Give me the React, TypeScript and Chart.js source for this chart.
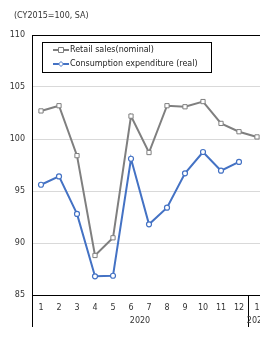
import React, { useEffect, useRef } from 'react';
import { Chart, registerables } from 'chart.js';
Chart.register(...registerables);

const months = ['1', '2', '3', '4', '5', '6', '7', '8', '9', '10', '11', '12', '1'];
const yearGroups = [
  { label: '2020', from: 0, to: 11 },
  { label: '2021', from: 12, to: 12 },
];
const retailSales = [102.7, 103.2, 98.4, 88.8, 90.5, 102.2, 98.7, 103.2, 103.1, 103.6, 101.5, 100.7, 100.2];
const consumption = [95.6, 96.4, 92.8, 86.8, 86.85, 98.1, 91.8, 93.4, 96.7, 98.75, 96.95, 97.8, null];
const seriesNames = ['Retail sales(nominal)', 'Consumption expenditure (real)'];
const unitLabel = '(CY2015=100, SA)';
const yMin = 85;
const yMax = 110;
const yStep = 5;

const GRAY = '#7f7f7f';
const BLUE = '#4472c4';
const FONT = '"DejaVu Sans", sans-serif';

const extrasPlugin = {
  id: 'extras',
  afterDraw(chart: any) {
    const ctx = chart.ctx;
    const area = chart.chartArea;
    ctx.save();
    // unit label
    ctx.fillStyle = '#333';
    ctx.font = `8px ${FONT}`;
    ctx.textAlign = 'left';
    ctx.textBaseline = 'middle';
    ctx.fillText(unitLabel, 14, 16);

    // group separators & year labels
    const step = (area.right - area.left) / months.length;
    ctx.strokeStyle = '#000';
    ctx.lineWidth = 1;
    const bottom = area.bottom;
    const sepBottom = 327;
    yearGroups.forEach((g) => {
      const x0 = area.left + g.from * step;
      const x1 = area.left + (g.to + 1) * step;
      ctx.beginPath();
      ctx.moveTo(Math.round(x0) + 0.5, bottom);
      ctx.lineTo(Math.round(x0) + 0.5, sepBottom);
      ctx.stroke();
      ctx.fillStyle = '#333';
      ctx.textAlign = 'center';
      ctx.fillText(g.label, (x0 + x1) / 2, 321);
    });

    // legend
    const lx = 42.5, ly = 42.5, lw = 169, lh = 30;
    ctx.fillStyle = '#fff';
    ctx.fillRect(lx, ly, lw, lh);
    ctx.strokeStyle = '#000';
    ctx.lineWidth = 1;
    ctx.strokeRect(lx, ly, lw, lh);
    const rows = [
      { name: seriesNames[0], color: GRAY, style: 'rect', y: 50 },
      { name: seriesNames[1], color: BLUE, style: 'diamond', y: 64 },
    ];
    rows.forEach((r) => {
      ctx.strokeStyle = r.color;
      ctx.lineWidth = 2;
      ctx.beginPath();
      ctx.moveTo(53, r.y);
      ctx.lineTo(69, r.y);
      ctx.stroke();
      ctx.fillStyle = '#fff';
      ctx.lineWidth = 1;
      ctx.beginPath();
      if (r.style === 'rect') {
        ctx.rect(58.5, r.y - 2.5, 5, 5);
      } else {
        ctx.moveTo(61, r.y - 2.5);
        ctx.lineTo(63.5, r.y);
        ctx.lineTo(61, r.y + 2.5);
        ctx.lineTo(58.5, r.y);
        ctx.closePath();
      }
      ctx.fill();
      ctx.stroke();
      ctx.fillStyle = '#222';
      ctx.font = `8px ${FONT}`;
      ctx.textAlign = 'left';
      ctx.textBaseline = 'middle';
      ctx.fillText(r.name, 70, r.y);
    });
    ctx.restore();
  },
};

export default function App() {
  const ref = useRef<HTMLCanvasElement | null>(null);
  useEffect(() => {
    if (!ref.current) return;
    const chart = new Chart(ref.current, {
      type: 'line',
      data: {
        labels: months,
        datasets: [
          {
            label: seriesNames[0],
            data: retailSales,
            borderColor: GRAY,
            backgroundColor: '#fff',
            borderWidth: 2,
            pointStyle: 'rect',
            pointRadius: 3,
            pointBorderWidth: 1,
            pointBackgroundColor: '#fff',
            pointBorderColor: GRAY,
            tension: 0,
          },
          {
            label: seriesNames[1],
            data: consumption,
            borderColor: BLUE,
            backgroundColor: '#fff',
            borderWidth: 2,
            pointStyle: 'circle',
            pointRadius: 2.5,
            pointBorderWidth: 1.2,
            pointBackgroundColor: '#fff',
            pointBorderColor: BLUE,
            tension: 0,
            spanGaps: false,
          },
        ],
      },
      options: {
        responsive: false,
        animation: false,
        devicePixelRatio: 1,
        layout: { padding: { left: 0, top: 35, right: 14, bottom: 0 } },
        plugins: { legend: { display: false }, tooltip: { enabled: false }, title: { display: false } },
        scales: {
          x: {
            offset: true,
            grid: { display: false, drawTicks: false },
            border: { color: '#000', width: 1 },
            ticks: {
              color: '#333',
              font: { family: FONT, size: 8 },
              padding: 8,
              maxRotation: 0,
              autoSkip: false,
            },
            afterFit: (s: any) => { s.height = 43; },
          },
          y: {
            min: yMin,
            max: yMax,
            grid: {
              drawTicks: false,
              color: (c: any) => (c.tick && c.tick.value === yMax ? '#000' : '#d9d9d9'),
              lineWidth: 1,
            },
            border: { color: '#000', width: 1 },
            ticks: {
              stepSize: yStep,
              color: '#333',
              font: { family: FONT, size: 8 },
              padding: 7,
            },
            afterFit: (s: any) => { s.width = 32; },
          },
        },
      },
      plugins: [extrasPlugin],
    });
    return () => chart.destroy();
  }, []);
  return (
    <div style={{ position: 'fixed', left: 0, top: 0, width: 260, height: 338, overflow: 'hidden', background: '#fff' }}>
      <canvas ref={ref} width={280} height={338} style={{ display: 'block' }} />
    </div>
  );
}
